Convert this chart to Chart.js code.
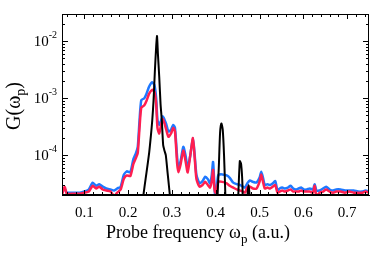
<!DOCTYPE html>
<html>
<head>
<meta charset="utf-8">
<script src="https://cdn.jsdelivr.net/npm/chart.js@4.4.1/dist/chart.umd.min.js"></script>
<style>
  body { margin: 0; background: #fff; }
  #wrap { width: 374px; height: 253px; }
</style>
</head>
<body>
<div id="wrap"><canvas id="gplot"></canvas></div>
<script>
// probe frequency grid (a.u.) for the two broad spectra
var freq = [0.049,0.055,0.06,0.07,0.08,0.09,0.1,0.11,0.119,0.127,0.134,0.142,0.15,0.16,0.168,0.175,0.183,0.19,0.197,0.205,
  0.212,0.218,0.222,0.226,0.23,0.237,0.242,0.248,0.255,0.26,0.264,0.267,0.271,0.275,0.279,0.283,0.287,0.292,0.298,0.303,
  0.307,0.312,0.315,0.32,0.326,0.331,0.336,0.342,0.348,0.352,0.356,0.363,0.37,0.376,0.382,0.387,0.391,0.394,0.397,0.399,
  0.402,0.406,0.415,0.425,0.432,0.44,0.448,0.455,0.462,0.467,0.472,0.478,0.485,0.493,0.5,0.504,0.508,0.512,0.518,0.524,
  0.53,0.536,0.541,0.546,0.552,0.558,0.565,0.571,0.577,0.583,0.589,0.595,0.601,0.608,0.615,0.622,0.626,0.63,0.637,0.645,
  0.652,0.66,0.668,0.675,0.685,0.695,0.705,0.715,0.725,0.735,0.742,0.75];

var blueG = [2.2e-5,2.6e-5,2.2e-5,2.2e-5,2.2e-5,2.2e-5,2.3e-5,2.5e-5,3.3e-5,2.9e-5,3.1e-5,2.8e-5,2.6e-5,2.5e-5,2.4e-5,2.6e-5,2.8e-5,4.5e-5,5.2e-5,5.0e-5,
  8.5e-5,1.1e-4,1.4e-4,4.0e-4,9.2e-4,1.0e-3,1.2e-3,1.6e-3,1.9e-3,1.7e-3,1.0e-3,4.1e-4,3.4e-4,4.0e-4,4.8e-4,4.2e-4,3.5e-4,2.6e-4,2.8e-4,3.4e-4,
  3.0e-4,9e-5,6e-5,8e-5,1.4e-4,1.0e-4,6.0e-5,1.0e-4,2.0e-4,1.0e-4,4.5e-5,3.2e-5,3.5e-5,4.2e-5,3.8e-5,3.2e-5,4.5e-5,7.6e-5,3.0e-5,1.8e-5,
  2.5e-5,4.5e-5,4.6e-5,4.4e-5,4.0e-5,3.3e-5,3.1e-5,3.0e-5,2.8e-5,2.7e-5,3.2e-5,3.6e-5,3.4e-5,3.3e-5,4.0e-5,5.1e-5,4.0e-5,3.0e-5,3.1e-5,3.0e-5,
  3.2e-5,3.5e-5,2.4e-5,2.6e-5,2.7e-5,2.6e-5,2.7e-5,2.9e-5,2.6e-5,2.5e-5,2.6e-5,2.7e-5,2.5e-5,2.5e-5,2.6e-5,2.5e-5,3.1e-5,2.4e-5,2.4e-5,2.6e-5,
  2.8e-5,2.5e-5,2.4e-5,2.5e-5,2.5e-5,2.4e-5,2.4e-5,2.4e-5,2.3e-5,2.3e-5,2.4e-5,2.3e-5];

var redG = [2.0e-5,2.8e-5,2.1e-5,2.1e-5,2.1e-5,2.1e-5,2.2e-5,2.3e-5,2.9e-5,2.6e-5,2.8e-5,2.5e-5,2.4e-5,2.3e-5,1.9e-5,2.2e-5,2.5e-5,3.8e-5,4.4e-5,4.3e-5,
  7.0e-5,9.0e-5,1.1e-4,3.0e-4,6.8e-4,7.5e-4,9.0e-4,1.2e-3,1.4e-3,1.3e-3,8.0e-4,3.0e-4,2.4e-4,3.3e-4,4.3e-4,3.6e-4,2.8e-4,2.1e-4,2.4e-4,3.0e-4,
  2.6e-4,7e-5,5e-5,7e-5,1.2e-4,8e-5,5.0e-5,1.0e-4,2.0e-4,9e-5,3.8e-5,2.8e-5,3.0e-5,3.4e-5,3.0e-5,2.7e-5,3.5e-5,5.5e-5,2.6e-5,2.2e-5,
  2.4e-5,3.4e-5,3.4e-5,3.2e-5,2.9e-5,2.7e-5,2.5e-5,2.4e-5,2.3e-5,2.2e-5,2.7e-5,2.8e-5,2.6e-5,2.6e-5,3.4e-5,4.6e-5,3.4e-5,2.6e-5,2.7e-5,2.6e-5,
  2.8e-5,3.0e-5,2.2e-5,2.3e-5,2.4e-5,2.3e-5,2.4e-5,2.5e-5,2.3e-5,2.3e-5,2.3e-5,2.4e-5,2.3e-5,2.3e-5,2.3e-5,2.2e-5,2.9e-5,1.9e-5,2.2e-5,2.3e-5,
  2.5e-5,2.3e-5,2.2e-5,2.3e-5,2.3e-5,2.2e-5,2.3e-5,2.2e-5,2.2e-5,2.2e-5,2.3e-5,2.2e-5];

// narrow (black) spectrum, its own frequency grid
var blackFreq = [0.225,0.233,0.238,0.242,0.248,0.252,0.255,0.258,0.261,0.264,0.266,0.268,0.271,0.274,0.277,0.28,0.283,0.286,0.29,0.294,0.298,0.305,
  0.398,0.403,0.407,0.41,0.413,0.416,0.419,0.422,0.426,
  0.446,0.451,0.455,0.458,0.461,0.465,
  0.469,0.472,0.475,0.478,0.481];
var blackG = [1e-6,1.5e-5,3e-5,5e-5,1.1e-4,2.2e-4,4e-4,9e-4,2.9e-3,8e-3,1.23e-2,6e-3,2.4e-3,8e-4,4e-4,1.5e-4,1.2e-4,1e-4,5e-5,2.5e-5,1.2e-5,1e-6,
  1e-6,1.2e-5,6e-5,2.5e-4,3.6e-4,2.8e-4,1e-4,2e-5,1e-6,
  1e-6,1.5e-5,7.9e-5,7e-5,3e-5,1e-6,
  1e-6,1.5e-5,3e-5,1.5e-5,1e-6];

var xTicks = [0.1, 0.2, 0.3, 0.4, 0.5, 0.6, 0.7];
var yTicks = [1e-4, 1e-3, 1e-2];
var yTickExp = ['-4', '-3', '-2'];

function pts(xs, ys) {
  return xs.map(function(x, i) { return { x: x, y: ys[i] }; });
}

var serif = '"Liberation Serif", "DejaVu Serif", serif';

var framePlugin = {
  id: 'frame',
  afterDraw: function(chart) {
    var c = chart.ctx, a = chart.chartArea;
    var xs = chart.scales.x, ys = chart.scales.y;
    c.save();
    c.strokeStyle = '#000';
    c.lineWidth = 1;
    c.strokeRect(a.left + 0.5, a.top + 0.5, a.right - a.left - 1, a.bottom - a.top - 1);
    c.beginPath();
    // inward ticks on x
    for (var k = 3; k <= 37; k++) {
      var v = k * 0.02;
      if (v < xs.min || v > xs.max) continue;
      var px = Math.round(xs.getPixelForValue(v)) + 0.5;
      var len = (k % 5 === 0) ? 5 : 3;
      c.moveTo(px, a.bottom); c.lineTo(px, a.bottom - len);
      c.moveTo(px, a.top); c.lineTo(px, a.top + len);
    }
    // inward ticks on y (log decades)
    for (var d = -5; d <= -1; d++) {
      for (var m = 1; m <= 9; m++) {
        var val = m * Math.pow(10, d);
        if (val < ys.min || val > ys.max) continue;
        var py = Math.round(ys.getPixelForValue(val)) + 0.5;
        var l = (m === 1) ? 6 : 3;
        c.moveTo(a.left, py); c.lineTo(a.left + l, py);
        c.moveTo(a.right, py); c.lineTo(a.right - l, py);
      }
    }
    c.stroke();

    // y tick labels 10^n
    c.fillStyle = '#000';
    c.textBaseline = 'middle';
    yTicks.forEach(function(v, i) {
      var py = ys.getPixelForValue(v);
      c.font = '10px ' + serif;
      c.textAlign = 'right';
      var ew = c.measureText(yTickExp[i]).width;
      c.fillText(yTickExp[i], 57, py - 6);
      c.font = '15px ' + serif;
      c.fillText('10', 57 - ew, py + 1);
    });

    // x axis title
    c.textAlign = 'left';
    c.textBaseline = 'alphabetic';
    c.font = '18px ' + serif;
    var t1 = 'Probe frequency \u03c9', t3 = ' (a.u.)';
    var w1 = c.measureText(t1).width, w3 = c.measureText(t3).width;
    c.font = '13px ' + serif;
    var w2 = c.measureText('p').width;
    var x0 = 198 - (w1 + w2 + w3) / 2;
    c.font = '18px ' + serif;
    c.fillText(t1, x0, 238);
    c.font = '13px ' + serif;
    c.fillText('p', x0 + w1, 243);
    c.font = '18px ' + serif;
    c.fillText(t3, x0 + w1 + w2, 238);

    // y axis title, rotated
    c.translate(20, 106);
    c.rotate(-Math.PI / 2);
    c.font = '20px ' + serif;
    var g1 = 'G(\u03c9', g3 = ')';
    var gw1 = c.measureText(g1).width, gw3 = c.measureText(g3).width;
    c.font = '14px ' + serif;
    var gw2 = c.measureText('p').width;
    var gx = -(gw1 + gw2 + gw3) / 2;
    c.font = '20px ' + serif;
    c.fillText(g1, gx, 0);
    c.font = '14px ' + serif;
    c.fillText('p', gx + gw1, 5);
    c.font = '20px ' + serif;
    c.fillText(g3, gx + gw1 + gw2, 0);
    c.restore();
  }
};

var ctx = document.getElementById('gplot');
var gChart = new Chart(ctx, {
  type: 'line',
  data: {
    datasets: [
      { label: 'narrow', data: pts(blackFreq, blackG), borderColor: '#000000', borderWidth: 2, order: 0 },
      { label: 'red', data: pts(freq, redG), borderColor: 'rgba(255,30,80,1)', borderWidth: 2.5, order: 1 },
      { label: 'blue', data: pts(freq, blueG), borderColor: 'rgba(30,120,255,1)', borderWidth: 2.5, order: 2 }
    ]
  },
  options: {
    responsive: true,
    maintainAspectRatio: false,
    animation: false,
    parsing: true,
    elements: { point: { radius: 0 }, line: { tension: 0.2 } },
    layout: { padding: { left: 0, right: 5, top: 14, bottom: 0 } },
    plugins: { legend: { display: false }, tooltip: { enabled: false } },
    scales: {
      x: {
        type: 'linear',
        min: 0.049,
        max: 0.75,
        afterBuildTicks: function(scale) {
          scale.ticks = xTicks.map(function(v) { return { value: v }; });
        },
        afterFit: function(scale) { scale.height = 58; },
        grid: { display: false, drawTicks: false },
        border: { display: true, color: '#000' },
        ticks: {
          color: '#000',
          padding: 9,
          maxRotation: 0,
          font: { family: serif, size: 15 },
          callback: function(v) { return v.toFixed(1); }
        }
      },
      y: {
        type: 'logarithmic',
        min: 2e-5,
        max: 3e-2,
        afterBuildTicks: function(scale) {
          scale.ticks = yTicks.map(function(v) { return { value: v }; });
        },
        afterFit: function(scale) { scale.width = 62; },
        grid: { display: false, drawTicks: false },
        border: { display: true, color: '#000' },
        ticks: { display: false }
      }
    }
  },
  plugins: [framePlugin]
});
</script>
</body>
</html>
